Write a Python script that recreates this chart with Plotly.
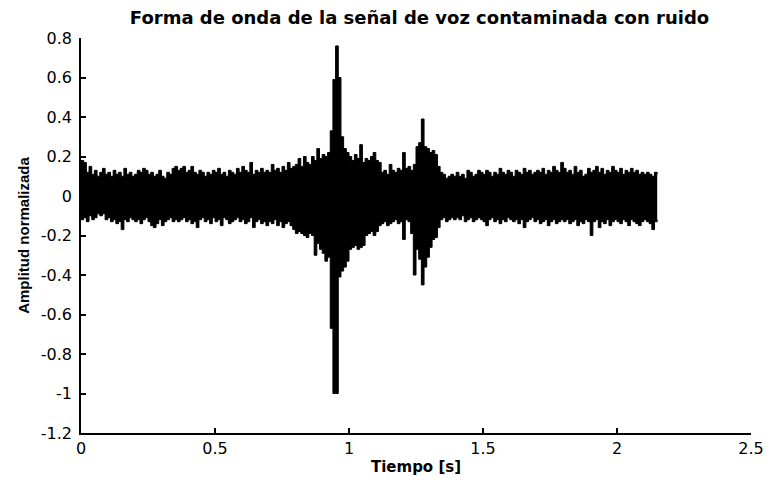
import numpy as np
import plotly.graph_objects as go

# Envelope of the noisy speech waveform, read every 0.01 s (t = 0.00 ... 2.15 s)
dt = 0.01
upper = [
    0.18, 0.17, 0.12, 0.15, 0.11, 0.13, 0.10, 0.12, 0.14, 0.11,
    0.12, 0.10, 0.13, 0.11, 0.12, 0.10, 0.14, 0.11, 0.12, 0.10,
    0.11, 0.13, 0.12, 0.14, 0.13, 0.11, 0.12, 0.10, 0.11, 0.13,
    0.10, 0.09, 0.12, 0.11, 0.14, 0.15, 0.13, 0.14, 0.15, 0.12,
    0.13, 0.15, 0.12, 0.11, 0.13, 0.12, 0.10, 0.12, 0.11, 0.13,
    0.12, 0.14, 0.11, 0.12, 0.10, 0.13, 0.12, 0.11, 0.14, 0.12,
    0.15, 0.13, 0.12, 0.17, 0.11, 0.13, 0.12, 0.14, 0.12, 0.13,
    0.12, 0.16, 0.13, 0.14, 0.12, 0.15, 0.13, 0.17, 0.14, 0.15,
    0.16, 0.19, 0.15, 0.20, 0.17, 0.16, 0.20, 0.18, 0.24, 0.19,
    0.21, 0.20, 0.22, 0.33, 0.59, 0.76, 0.60, 0.30, 0.24, 0.22,
    0.20, 0.18, 0.21, 0.19, 0.26, 0.17, 0.19, 0.18, 0.20, 0.22,
    0.18, 0.17, 0.12, 0.13, 0.11, 0.16, 0.13, 0.12, 0.14, 0.13,
    0.22, 0.14, 0.15, 0.13, 0.16, 0.25, 0.27, 0.39, 0.25, 0.24,
    0.22, 0.23, 0.21, 0.15, 0.12, 0.11, 0.09, 0.10, 0.11, 0.10,
    0.12, 0.10, 0.11, 0.09, 0.13, 0.12, 0.10, 0.11, 0.13, 0.12,
    0.11, 0.13, 0.12, 0.10, 0.12, 0.11, 0.14, 0.12, 0.11, 0.13,
    0.12, 0.10, 0.13, 0.12, 0.11, 0.14, 0.12, 0.13, 0.11, 0.12,
    0.13, 0.12, 0.14, 0.11, 0.13, 0.12, 0.15, 0.13, 0.12, 0.17,
    0.14, 0.12, 0.13, 0.11, 0.15, 0.12, 0.13, 0.10, 0.11, 0.14,
    0.12, 0.13, 0.15, 0.12, 0.14, 0.11, 0.13, 0.12, 0.15, 0.13,
    0.12, 0.14, 0.11, 0.13, 0.12, 0.14, 0.12, 0.13, 0.11, 0.12,
    0.11, 0.12, 0.11, 0.10, 0.12, 0.11,
]
lower = [
    -0.12, -0.11, -0.13, -0.10, -0.12, -0.11, -0.09, -0.10, -0.09, -0.12,
    -0.11, -0.13, -0.12, -0.14, -0.13, -0.17, -0.12, -0.13, -0.11, -0.12,
    -0.13, -0.12, -0.14, -0.12, -0.11, -0.13, -0.15, -0.16, -0.14, -0.12,
    -0.15, -0.13, -0.12, -0.11, -0.13, -0.12, -0.13, -0.12, -0.11, -0.13,
    -0.12, -0.14, -0.13, -0.16, -0.12, -0.11, -0.13, -0.12, -0.14, -0.11,
    -0.13, -0.12, -0.15, -0.11, -0.12, -0.14, -0.13, -0.12, -0.11, -0.13,
    -0.12, -0.14, -0.13, -0.11, -0.16, -0.13, -0.12, -0.14, -0.13, -0.15,
    -0.13, -0.14, -0.12, -0.15, -0.13, -0.16, -0.14, -0.13, -0.15, -0.17,
    -0.19, -0.18, -0.19, -0.20, -0.21, -0.19, -0.20, -0.30, -0.24, -0.27,
    -0.29, -0.33, -0.31, -0.67, -1.00, -1.00, -0.41, -0.38, -0.36, -0.33,
    -0.27, -0.26, -0.25, -0.27, -0.26, -0.25, -0.20, -0.19, -0.18, -0.20,
    -0.18, -0.15, -0.14, -0.13, -0.15, -0.14, -0.13, -0.12, -0.14, -0.13,
    -0.22, -0.12, -0.13, -0.19, -0.40, -0.27, -0.32, -0.45, -0.36, -0.31,
    -0.26, -0.22, -0.21, -0.16, -0.12, -0.11, -0.13, -0.12, -0.11, -0.12,
    -0.11, -0.12, -0.10, -0.13, -0.12, -0.11, -0.13, -0.12, -0.11, -0.12,
    -0.13, -0.15, -0.12, -0.11, -0.13, -0.12, -0.14, -0.12, -0.13, -0.11,
    -0.12, -0.13, -0.12, -0.14, -0.12, -0.16, -0.13, -0.12, -0.11, -0.13,
    -0.12, -0.14, -0.13, -0.12, -0.15, -0.13, -0.12, -0.14, -0.13, -0.12,
    -0.13, -0.12, -0.14, -0.13, -0.12, -0.15, -0.13, -0.14, -0.12, -0.13,
    -0.20, -0.13, -0.12, -0.16, -0.13, -0.14, -0.12, -0.15, -0.13, -0.12,
    -0.13, -0.14, -0.12, -0.13, -0.15, -0.12, -0.13, -0.14, -0.15, -0.13,
    -0.12, -0.13, -0.14, -0.17, -0.13, -0.12,
]
t = np.arange(len(upper)) * dt

x_ticks = [0, 0.5, 1, 1.5, 2, 2.5]
x_ticktext = ["0", "0.5", "1", "1.5", "2", "2.5"]
y_ticks = [-1.2, -1.0, -0.8, -0.6, -0.4, -0.2, 0, 0.2, 0.4, 0.6, 0.8]
y_ticktext = ["-1.2", "-1", "-0.8", "-0.6", "-0.4", "-0.2", "0", "0.2", "0.4", "0.6", "0.8"]

fig = go.Figure()
for env in (upper, lower):
    fig.add_trace(go.Scatter(
        x=t, y=env, mode="lines", line_shape="hv", fill="tozeroy",
        fillcolor="black", line=dict(color="black", width=1),
        hoverinfo="skip", showlegend=False))

tickfont = dict(family="DejaVu Sans", size=16, color="black")
fig.update_layout(
    width=776, height=485,
    margin=dict(l=81, r=18, t=38, b=46),
    paper_bgcolor="white", plot_bgcolor="white",
    title=dict(text="<b>Forma de onda de la señal de voz contaminada con ruido</b>",
               x=(81 + 758) / 2 / 776, xanchor="center", y=1 - 18 / 485, yanchor="middle",
               font=dict(family="DejaVu Sans", size=18, color="black")),
    xaxis=dict(range=[0, 2.5], tickvals=x_ticks, ticktext=x_ticktext,
               showline=True, linecolor="black", linewidth=1.5, mirror=False,
               ticks="inside", ticklen=5, tickwidth=1.5, tickcolor="black",
               showgrid=False, zeroline=False, tickfont=tickfont,
               title=dict(text="<b>Tiempo [s]</b>", standoff=5,
                          font=dict(family="DejaVu Sans", size=15, color="black"))),
    yaxis=dict(range=[-1.2, 0.8], tickvals=y_ticks, ticktext=y_ticktext,
               showline=True, linecolor="black", linewidth=1.5, mirror=False,
               ticks="inside", ticklen=5, tickwidth=1.5, tickcolor="black",
               showgrid=False, zeroline=False, tickfont=tickfont,
               ticklabelstandoff=4,
               title=dict(text="<b>Amplitud normalizada</b>", standoff=8,
                          font=dict(family="Liberation Sans", size=15, color="black"))),
)

fig.write_html("out.html")
